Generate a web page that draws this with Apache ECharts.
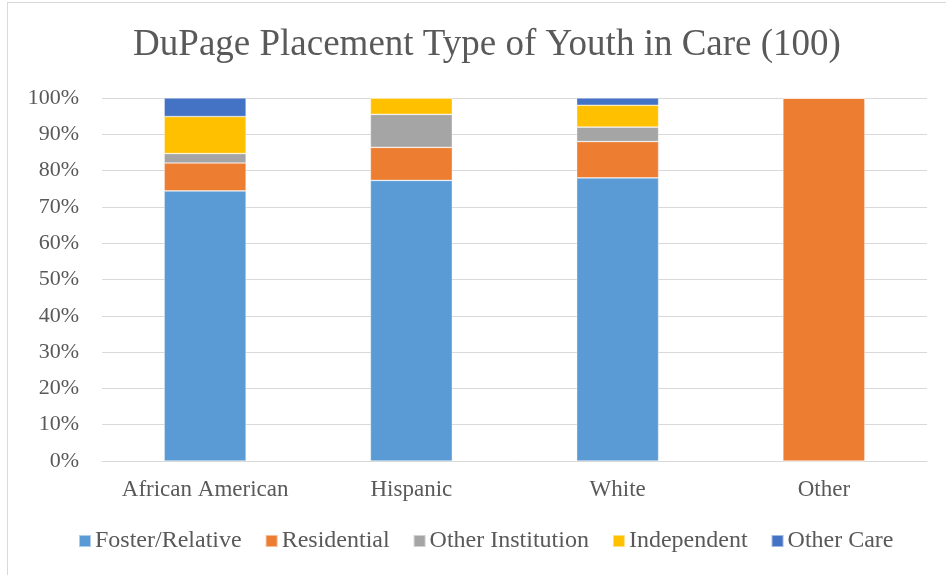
<!DOCTYPE html>
<html>
<head>
<meta charset="utf-8">
<script src="https://cdn.jsdelivr.net/npm/echarts@6/dist/echarts.min.js"></script>
<style>
  html, body { margin: 0; padding: 0; background: #fff; }
  #frame { position: absolute; left: 7px; top: 2px; width: 960px; height: 600px;
           border-left: 1px solid #d9d9d9; border-top: 1px solid #d9d9d9; }
  #chart { position: absolute; left: 0; top: 0; width: 946px; height: 575px; }
</style>
</head>
<body>
<div id="frame"></div>
<div id="chart"></div>
<script>
// percentages per group
var categories = ['African American', 'Hispanic', 'White', 'Other'];
var seriesNames = ['Foster/Relative', 'Residential', 'Other Institution', 'Independent', 'Other Care'];
var fosterRelative = [74.4, 77.3, 78, 0];
var residential = [7.7, 9.1, 10, 100];
var otherInstitution = [2.6, 9.1, 4, 0];
var independent = [10.2, 4.5, 6, 0];
var otherCare = [5.1, 0, 2, 0];
var colors = ['#5B9BD5', '#ED7D31', '#A5A5A5', '#FFC000', '#4472C4'];

var seriesData = [fosterRelative, residential, otherInstitution, independent, otherCare];
var font = 'Liberation Serif, Times New Roman, serif';

var chart = echarts.init(document.getElementById('chart'));
var series = seriesNames.map(function (name, i) {
  return {
    name: name,
    type: 'bar',
    stack: 'total',
    barWidth: 82,
    data: seriesData[i],
    itemStyle: { color: colors[i], borderColor: 'rgba(255,255,255,0.5)', borderWidth: 0.7 }
  };
});

chart.setOption({
  backgroundColor: 'transparent',
  color: colors,
  title: {
    text: 'DuPage Placement Type of Youth in Care (100)',
    left: 482,
    textAlign: 'center',
    top: 22,
    textStyle: { fontFamily: font, fontSize: 37, fontWeight: 'normal', color: '#595959' }
  },
  legend: {
    data: seriesNames,
    bottom: 17,
    left: 73,
    itemWidth: 12,
    itemHeight: 12,
    itemGap: 23,
    icon: 'rect',
    textStyle: { fontFamily: font, fontSize: 24, color: '#595959', padding: [0, 0, 0, -1] }
  },
  grid: { left: 102, right: 19, top: 98, bottom: 114 },
  xAxis: {
    type: 'category',
    data: categories,
    axisLine: { lineStyle: { color: '#D9D9D9' } },
    axisTick: { show: false },
    axisLabel: { interval: 0, fontFamily: font, fontSize: 23, color: '#595959', margin: 17 }
  },
  yAxis: {
    type: 'value',
    min: 0,
    max: 100,
    interval: 10,
    axisLine: { show: false },
    axisTick: { show: false },
    splitLine: { lineStyle: { color: '#D9D9D9', width: 1 } },
    axisLabel: {
      fontFamily: font, fontSize: 22, color: '#595959', margin: 23,
      formatter: function (v) { return v + '%'; }
    }
  },
  series: series
});
</script>
</body>
</html>
